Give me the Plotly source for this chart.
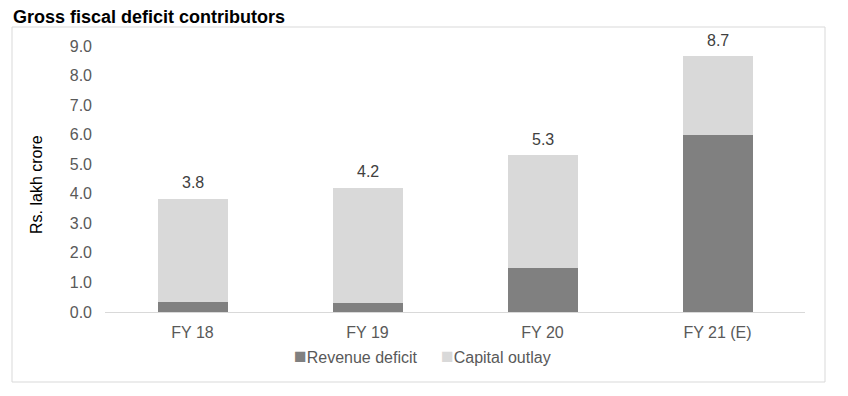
import plotly.graph_objects as go

categories = ["FY 18", "FY 19", "FY 20", "FY 21 (E)"]
totals = [3.83, 4.21, 5.31, 8.66]
revenue_deficit = [0.33, 0.29, 1.5, 6.0]
capital_outlay = [round(t - r, 2) for t, r in zip(totals, revenue_deficit)]
total_labels = ["3.8", "4.2", "5.3", "8.7"]
series_names = ["Revenue deficit", "Capital outlay"]
series_colors = ["#808080", "#d9d9d9"]
y_ticks = [0, 1, 2, 3, 4, 5, 6, 7, 8, 9]
y_tick_labels = ["0.0", "1.0", "2.0", "3.0", "4.0", "5.0", "6.0", "7.0", "8.0", "9.0"]

FONT = "Liberation Sans, Arial, sans-serif"

W, H = 840, 388
L, T = 97, 38
pw, ph = 700, 266
R = W - L - pw
B = H - T - ph


def px_x(x):
    return (x - L) / pw


def px_y(y):
    return (T + ph - y) / ph


fig = go.Figure()
fig.add_trace(go.Bar(x=categories, y=revenue_deficit, name=series_names[0],
                     marker=dict(color=series_colors[0], line=dict(width=0)),
                     hoverinfo="skip", showlegend=False))
fig.add_trace(go.Bar(x=categories, y=capital_outlay, name=series_names[1],
                     marker=dict(color=series_colors[1], line=dict(width=0)),
                     hoverinfo="skip", showlegend=False))

for c, t, lab in zip(categories, totals, total_labels):
    fig.add_annotation(x=c, y=t, text=lab, showarrow=False, yanchor="middle",
                       yshift=16, font=dict(size=16, color="#404040", family=FONT))

fig.update_layout(
    width=W, height=H,
    margin=dict(l=L, r=R, t=T, b=B),
    paper_bgcolor="white", plot_bgcolor="white",
    barmode="stack", bargap=0.6,
    font=dict(family=FONT, size=16, color="#595959"),
    title=dict(text="<b>Gross fiscal deficit contributors</b>", x=5 / W, xanchor="left",
               y=1 - 9 / H, yanchor="middle", yref="container",
               font=dict(size=18, color="#000000", family=FONT)),
    xaxis=dict(showgrid=False, showline=True, linecolor="#d9d9d9", linewidth=1,
               ticks="", tickfont=dict(size=16, color="#595959"), ticklabelstandoff=6),
    yaxis=dict(range=[0, 9], tickvals=y_ticks, ticktext=y_tick_labels, showgrid=False,
               zeroline=False, showline=False, ticks="",
               tickfont=dict(size=16, color="#595959"), ticklabelstandoff=12),
    showlegend=False,
)

# legend entries (square glyph + label), placed like the reference
legend_pos = [284, 431]
for name, col, x0 in zip(series_names, series_colors, legend_pos):
    fig.add_annotation(xref="paper", yref="paper", x=px_x(x0), y=px_y(348),
                       xanchor="left", yanchor="middle", showarrow=False,
                       text=f"<span style='color:{col};font-size:21px'>■</span>{name}",
                       font=dict(size=16, color="#595959", family=FONT))

fig.add_annotation(text="Rs. lakh crore", xref="paper", yref="paper",
                   x=px_x(29), y=px_y(177), textangle=-90, showarrow=False,
                   xanchor="center", yanchor="middle",
                   font=dict(size=16, color="#000000", family=FONT))

fig.add_shape(type="rect", xref="paper", yref="paper",
              x0=px_x(4), x1=px_x(817), y0=px_y(374), y1=px_y(19),
              line=dict(color="#d9d9d9", width=1), fillcolor="rgba(0,0,0,0)", layer="below")

fig.write_html("out.html")
